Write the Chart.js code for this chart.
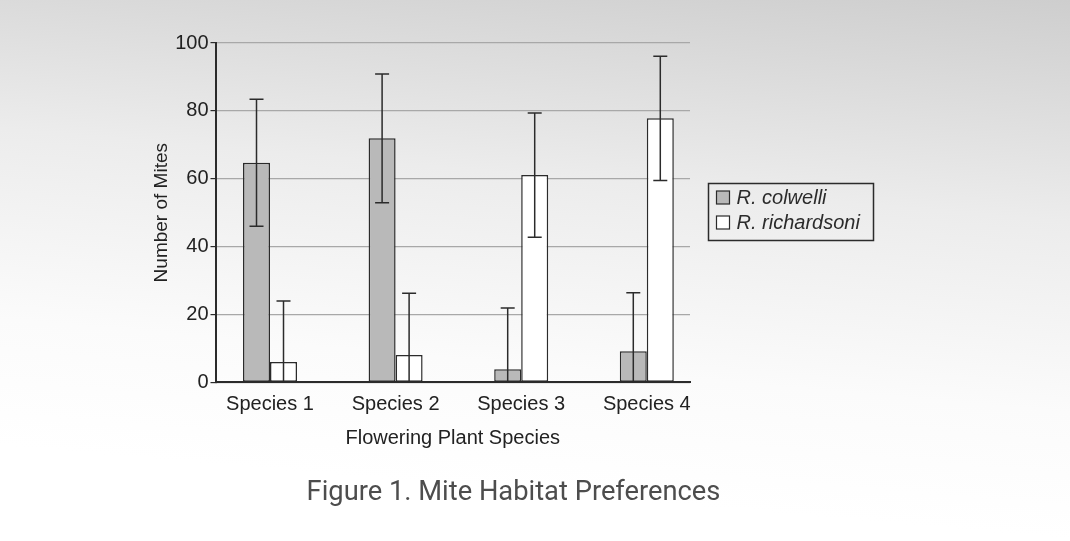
<!DOCTYPE html>
<html>
<head>
<meta charset="utf-8">
<title>Figure 1. Mite Habitat Preferences</title>
<script src="https://cdn.jsdelivr.net/npm/chart.js@4.4.1/dist/chart.umd.min.js"></script>
<style>
  html, body { margin: 0; padding: 0; }
  body {
    width: 1070px;
    height: 541px;
    overflow: hidden;
    background: linear-gradient(185deg, #cecece 0%, #ececec 35%, #fbfbfb 65%, #ffffff 85%);
  }
  canvas { display: block; }
</style>
</head>
<body>
<canvas id="chart" width="1070" height="541"></canvas>
<script>
// Flowering plant species on the x axis
const speciesLabels = ["Species 1", "Species 2", "Species 3", "Species 4"];
const speciesPositions = [1, 2, 3, 4];

// Mean number of mites found on each plant species
const colwelliValues = [64.7, 71.9, 3.9, 9.2];
const richardsoniValues = [6.0, 8.1, 61.1, 77.8];

// Error bar half-lengths
const colwelliErrors = [18.7, 19.0, 18.0, 17.2];
const richardsoniErrors = [18.0, 18.2, 18.3, 18.3];

const yTicks = [0, 20, 40, 60, 80, 100];

const AXIS_FONT = "'Liberation Sans', Arial, sans-serif";
const INK = "#2b2b2b";

const toPoints = (values) => values.map((v, i) => ({ x: speciesPositions[i], y: v }));

// Draws the +/- error whiskers on top of every bar
const errorBarPlugin = {
    id: 'errorBars',
    afterDatasetsDraw(chart) {
        const { ctx, chartArea, scales } = chart;
        ctx.save();
        ctx.beginPath();
        ctx.rect(chartArea.left, chartArea.top - 10, chartArea.width, chartArea.height + 10);
        ctx.clip();
        ctx.strokeStyle = INK;
        ctx.lineWidth = 1.5;
        chart.data.datasets.forEach((ds, di) => {
            const meta = chart.getDatasetMeta(di);
            meta.data.forEach((bar, i) => {
                const value = ds.data[i].y;
                const err = ds.errors[i];
                const x = bar.x;
                const yHi = scales.y.getPixelForValue(value + err);
                const yLo = scales.y.getPixelForValue(value - err);
                const cap = 7;
                ctx.beginPath();
                ctx.moveTo(x, yHi);
                ctx.lineTo(x, yLo);
                ctx.moveTo(x - cap, yHi);
                ctx.lineTo(x + cap, yHi);
                ctx.moveTo(x - cap, yLo);
                ctx.lineTo(x + cap, yLo);
                ctx.stroke();
            });
        });
        ctx.restore();
    }
};

// Boxed legend to the right of the plot
const boxedLegendPlugin = {
    id: 'boxedLegend',
    afterDraw(chart) {
        const { ctx } = chart;
        const left = 708.5, top = 183.5, width = 165, height = 57;
        ctx.save();
        ctx.strokeStyle = INK;
        ctx.lineWidth = 1.5;
        ctx.strokeRect(left, top, width, height);
        ctx.font = "italic 20px " + AXIS_FONT;
        ctx.textBaseline = 'middle';
        ctx.textAlign = 'left';
        chart.data.datasets.forEach((ds, i) => {
            const rowY = top + 14 + i * 25;
            ctx.fillStyle = ds.backgroundColor;
            ctx.fillRect(left + 8, rowY - 6.5, 13, 13);
            ctx.lineWidth = 1.2;
            ctx.strokeRect(left + 8, rowY - 6.5, 13, 13);
            ctx.fillStyle = INK;
            ctx.fillText(ds.label, left + 28, rowY + 1);
        });
        ctx.restore();
    }
};

// Figure caption below the chart
const captionPlugin = {
    id: 'caption',
    afterDraw(chart) {
        const { ctx } = chart;
        ctx.save();
        ctx.font = "27.3px Roboto, 'Noto Sans', sans-serif";
        ctx.fillStyle = "#4d4d4d";
        ctx.textAlign = 'center';
        ctx.textBaseline = 'middle';
        ctx.fillText("Figure 1. Mite Habitat Preferences", 513.5, 493);
        ctx.restore();
    }
};

new Chart(document.getElementById('chart'), {
    type: 'bar',
    data: {
        datasets: [
            {
                label: "R. colwelli",
                data: toPoints(colwelliValues),
                errors: colwelliErrors,
                backgroundColor: "#b9b9b9",
                borderColor: INK,
                borderWidth: 1.5,
                borderSkipped: false
            },
            {
                label: "R. richardsoni",
                data: toPoints(richardsoniValues),
                errors: richardsoniErrors,
                backgroundColor: "#ffffff",
                borderColor: INK,
                borderWidth: 1.5,
                borderSkipped: false
            }
        ]
    },
    options: {
        responsive: false,
        animation: false,
        events: [],
        categoryPercentage: 0.43,
        barPercentage: 1.0,
        layout: {
            padding: { left: 150, right: 380, top: 43, bottom: 90.6 }
        },
        plugins: {
            legend: { display: false },
            tooltip: { enabled: false }
        },
        scales: {
            x: {
                type: 'linear',
                offset: false,
                min: 0.566,
                max: 4.344,
                grid: { display: false, offset: false },
                border: { display: true, color: INK, width: 2 },
                afterBuildTicks: (scale) => {
                    scale.ticks = speciesPositions.map(v => ({ value: v }));
                },
                ticks: {
                    color: "#222",
                    font: { family: AXIS_FONT, size: 20 },
                    padding: 2,
                    maxRotation: 0,
                    callback: (value) => speciesLabels[speciesPositions.indexOf(value)]
                },
                title: {
                    display: true,
                    text: "Flowering Plant Species",
                    color: "#222",
                    font: { family: AXIS_FONT, size: 20 },
                    padding: { top: 8, bottom: 0 }
                }
            },
            y: {
                min: 0,
                max: 100,
                afterBuildTicks: (scale) => {
                    scale.ticks = yTicks.map(v => ({ value: v }));
                },
                afterFit: (scale) => { scale.width = 65.5; },
                grid: {
                    color: "#a8a8a8",
                    lineWidth: 1.2,
                    drawTicks: true,
                    tickLength: 5,
                    tickColor: INK
                },
                border: { display: true, color: INK, width: 2 },
                ticks: {
                    color: "#222",
                    font: { family: AXIS_FONT, size: 20 },
                    padding: 2
                },
                title: {
                    display: true,
                    text: "Number of Mites",
                    color: "#222",
                    font: { family: AXIS_FONT, size: 19 },
                    padding: { top: 0, bottom: 6 }
                }
            }
        }
    },
    plugins: [errorBarPlugin, boxedLegendPlugin, captionPlugin]
});
</script>
</body>
</html>
